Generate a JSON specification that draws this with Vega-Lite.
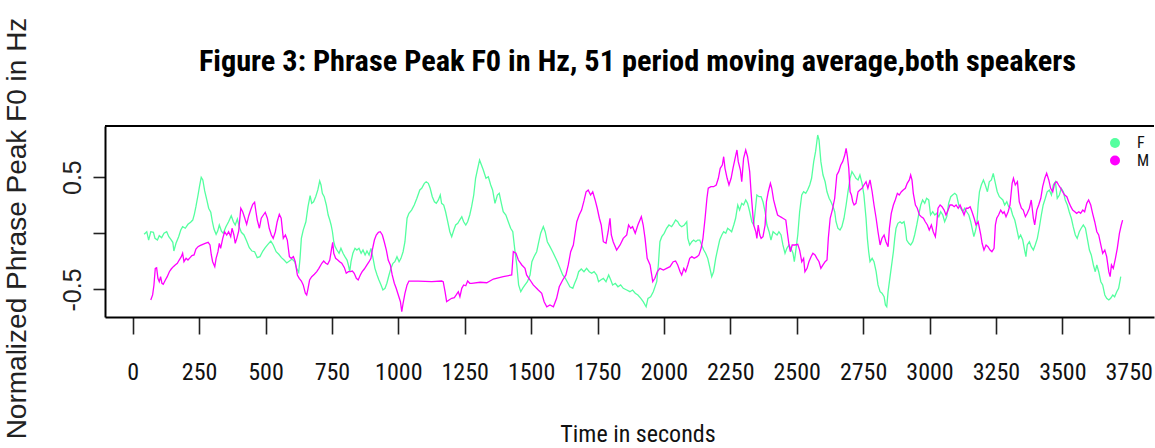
{
  "$schema": "https://vega.github.io/schema/vega-lite/v6.json",
  "autosize": {"type": "none"},
  "padding": {"left": 105, "top": 126, "right": 1, "bottom": 131},
  "width": 1049,
  "height": 191,
  "background": "white",
  "title": {
    "text": "Figure 3: Phrase Peak F0 in Hz, 51 period moving average,both speakers",
    "font": "Roboto Condensed, DejaVu Sans Condensed, Liberation Sans Narrow, Liberation Sans, sans-serif",
    "fontSize": 30.3,
    "fontWeight": "bold",
    "color": "#000000",
    "anchor": "middle",
    "frame": "group",
    "dx": 8,
    "offset": -84,
    "baseline": "alphabetic"
  },
  "config": {
    "view": {"stroke": null},
    "axis": {"grid": false}
  },
  "datasets": {
    "series": [
{"s":"F","t":43,"v":-0.009},{"s":"F","t":53,"v":0.014},{"s":"F","t":60,"v":-0.06},{"s":"F","t":68,"v":0.014},{"s":"F","t":78,"v":0.009},{"s":"F","t":84,"v":-0.045},{"s":"F","t":93,"v":-0.06},{"s":"F","t":100,"v":-0.021},{"s":"F","t":109,"v":-0.039},{"s":"F","t":118,"v":0},{"s":"F","t":128,"v":0.014},{"s":"F","t":136,"v":-0.03},{"s":"F","t":143,"v":-0.051},{"s":"F","t":151,"v":-0.08},{"s":"F","t":155,"v":-0.158},{"s":"F","t":163,"v":-0.089},{"s":"F","t":173,"v":-0.03},{"s":"F","t":181,"v":0.029},{"s":"F","t":188,"v":0.059},{"s":"F","t":198,"v":0.045},{"s":"F","t":208,"v":0.08},{"s":"F","t":218,"v":0.098},{"s":"F","t":226,"v":0.118},{"s":"F","t":232,"v":0.169},{"s":"F","t":238,"v":0.237},{"s":"F","t":246,"v":0.341},{"s":"F","t":252,"v":0.424},{"s":"F","t":258,"v":0.499},{"s":"F","t":264,"v":0.475},{"s":"F","t":271,"v":0.377},{"s":"F","t":279,"v":0.297},{"s":"F","t":286,"v":0.223},{"s":"F","t":294,"v":0.187},{"s":"F","t":300,"v":0.103},{"s":"F","t":306,"v":0.038},{"s":"F","t":314,"v":-0.009},{"s":"F","t":320,"v":0.02},{"s":"F","t":326,"v":0.074},{"s":"F","t":334,"v":0.02},{"s":"F","t":341,"v":0},{"s":"F","t":351,"v":0.059},{"s":"F","t":361,"v":0.103},{"s":"F","t":371,"v":0.157},{"s":"F","t":379,"v":0.103},{"s":"F","t":386,"v":0.074},{"s":"F","t":394,"v":0.127},{"s":"F","t":401,"v":0.059},{"s":"F","t":409,"v":0.009},{"s":"F","t":419,"v":-0.015},{"s":"F","t":429,"v":-0.069},{"s":"F","t":439,"v":-0.128},{"s":"F","t":449,"v":-0.158},{"s":"F","t":459,"v":-0.164},{"s":"F","t":469,"v":-0.217},{"s":"F","t":479,"v":-0.208},{"s":"F","t":490,"v":-0.158},{"s":"F","t":499,"v":-0.128},{"s":"F","t":509,"v":-0.098},{"s":"F","t":520,"v":-0.069},{"s":"F","t":529,"v":-0.104},{"s":"F","t":540,"v":-0.164},{"s":"F","t":550,"v":-0.187},{"s":"F","t":560,"v":-0.217},{"s":"F","t":570,"v":-0.238},{"s":"F","t":580,"v":-0.264},{"s":"F","t":590,"v":-0.247},{"s":"F","t":600,"v":-0.229},{"s":"F","t":610,"v":-0.253},{"s":"F","t":617,"v":-0.312},{"s":"F","t":625,"v":-0.347},{"s":"F","t":630,"v":-0.223},{"s":"F","t":635,"v":-0.045},{"s":"F","t":642,"v":0.029},{"s":"F","t":652,"v":0.103},{"s":"F","t":660,"v":0.237},{"s":"F","t":668,"v":0.335},{"s":"F","t":674,"v":0.267},{"s":"F","t":681,"v":0.281},{"s":"F","t":689,"v":0.326},{"s":"F","t":697,"v":0.386},{"s":"F","t":704,"v":0.466},{"s":"F","t":709,"v":0.43},{"s":"F","t":714,"v":0.356},{"s":"F","t":721,"v":0.326},{"s":"F","t":729,"v":0.252},{"s":"F","t":736,"v":0.163},{"s":"F","t":742,"v":0.118},{"s":"F","t":747,"v":0.074},{"s":"F","t":752,"v":0.014},{"s":"F","t":757,"v":-0.075},{"s":"F","t":762,"v":-0.119},{"s":"F","t":769,"v":-0.149},{"s":"F","t":777,"v":-0.178},{"s":"F","t":784,"v":-0.134},{"s":"F","t":792,"v":-0.178},{"s":"F","t":799,"v":-0.208},{"s":"F","t":807,"v":-0.238},{"s":"F","t":812,"v":-0.282},{"s":"F","t":817,"v":-0.342},{"s":"F","t":822,"v":-0.253},{"s":"F","t":829,"v":-0.178},{"s":"F","t":837,"v":-0.134},{"s":"F","t":844,"v":-0.149},{"s":"F","t":852,"v":-0.134},{"s":"F","t":860,"v":-0.178},{"s":"F","t":867,"v":-0.149},{"s":"F","t":875,"v":-0.193},{"s":"F","t":882,"v":-0.158},{"s":"F","t":890,"v":-0.193},{"s":"F","t":897,"v":-0.134},{"s":"F","t":905,"v":-0.223},{"s":"F","t":912,"v":-0.312},{"s":"F","t":920,"v":-0.371},{"s":"F","t":927,"v":-0.416},{"s":"F","t":935,"v":-0.46},{"s":"F","t":942,"v":-0.505},{"s":"F","t":950,"v":-0.49},{"s":"F","t":957,"v":-0.445},{"s":"F","t":965,"v":-0.371},{"s":"F","t":972,"v":-0.312},{"s":"F","t":980,"v":-0.267},{"s":"F","t":987,"v":-0.253},{"s":"F","t":995,"v":-0.208},{"s":"F","t":1003,"v":-0.253},{"s":"F","t":1010,"v":-0.223},{"s":"F","t":1018,"v":-0.164},{"s":"F","t":1025,"v":-0.075},{"s":"F","t":1033,"v":0.134},{"s":"F","t":1040,"v":0.178},{"s":"F","t":1050,"v":0.207},{"s":"F","t":1060,"v":0.252},{"s":"F","t":1070,"v":0.312},{"s":"F","t":1081,"v":0.386},{"s":"F","t":1088,"v":0.401},{"s":"F","t":1098,"v":0.445},{"s":"F","t":1105,"v":0.459},{"s":"F","t":1113,"v":0.445},{"s":"F","t":1120,"v":0.401},{"s":"F","t":1128,"v":0.326},{"s":"F","t":1136,"v":0.281},{"s":"F","t":1143,"v":0.267},{"s":"F","t":1151,"v":0.297},{"s":"F","t":1158,"v":0.341},{"s":"F","t":1163,"v":0.267},{"s":"F","t":1171,"v":0.252},{"s":"F","t":1178,"v":0.192},{"s":"F","t":1186,"v":0.103},{"s":"F","t":1194,"v":0.014},{"s":"F","t":1201,"v":-0.03},{"s":"F","t":1209,"v":0.029},{"s":"F","t":1216,"v":0.074},{"s":"F","t":1224,"v":0.089},{"s":"F","t":1231,"v":0.118},{"s":"F","t":1239,"v":0.148},{"s":"F","t":1246,"v":0.103},{"s":"F","t":1254,"v":0.074},{"s":"F","t":1261,"v":0.103},{"s":"F","t":1269,"v":0.163},{"s":"F","t":1276,"v":0.237},{"s":"F","t":1284,"v":0.341},{"s":"F","t":1291,"v":0.49},{"s":"F","t":1299,"v":0.579},{"s":"F","t":1306,"v":0.653},{"s":"F","t":1320,"v":0.564},{"s":"F","t":1330,"v":0.49},{"s":"F","t":1339,"v":0.504},{"s":"F","t":1348,"v":0.43},{"s":"F","t":1355,"v":0.386},{"s":"F","t":1364,"v":0.267},{"s":"F","t":1373,"v":0.341},{"s":"F","t":1380,"v":0.356},{"s":"F","t":1388,"v":0.267},{"s":"F","t":1395,"v":0.192},{"s":"F","t":1405,"v":0.163},{"s":"F","t":1414,"v":0.103},{"s":"F","t":1423,"v":0.045},{"s":"F","t":1431,"v":0.014},{"s":"F","t":1438,"v":-0.134},{"s":"F","t":1446,"v":-0.282},{"s":"F","t":1453,"v":-0.46},{"s":"F","t":1461,"v":-0.52},{"s":"F","t":1468,"v":-0.49},{"s":"F","t":1477,"v":-0.46},{"s":"F","t":1486,"v":-0.431},{"s":"F","t":1496,"v":-0.371},{"s":"F","t":1503,"v":-0.253},{"s":"F","t":1511,"v":-0.208},{"s":"F","t":1521,"v":-0.164},{"s":"F","t":1529,"v":-0.075},{"s":"F","t":1536,"v":0},{"s":"F","t":1546,"v":0.059},{"s":"F","t":1553,"v":0.014},{"s":"F","t":1561,"v":-0.075},{"s":"F","t":1571,"v":-0.119},{"s":"F","t":1581,"v":-0.164},{"s":"F","t":1590,"v":-0.208},{"s":"F","t":1599,"v":-0.253},{"s":"F","t":1609,"v":-0.312},{"s":"F","t":1619,"v":-0.371},{"s":"F","t":1629,"v":-0.401},{"s":"F","t":1636,"v":-0.431},{"s":"F","t":1646,"v":-0.476},{"s":"F","t":1657,"v":-0.49},{"s":"F","t":1664,"v":-0.445},{"s":"F","t":1672,"v":-0.401},{"s":"F","t":1679,"v":-0.342},{"s":"F","t":1689,"v":-0.318},{"s":"F","t":1699,"v":-0.342},{"s":"F","t":1709,"v":-0.312},{"s":"F","t":1719,"v":-0.342},{"s":"F","t":1728,"v":-0.356},{"s":"F","t":1737,"v":-0.342},{"s":"F","t":1747,"v":-0.371},{"s":"F","t":1754,"v":-0.431},{"s":"F","t":1762,"v":-0.416},{"s":"F","t":1772,"v":-0.401},{"s":"F","t":1782,"v":-0.431},{"s":"F","t":1792,"v":-0.371},{"s":"F","t":1800,"v":-0.416},{"s":"F","t":1807,"v":-0.46},{"s":"F","t":1817,"v":-0.445},{"s":"F","t":1827,"v":-0.476},{"s":"F","t":1837,"v":-0.46},{"s":"F","t":1847,"v":-0.49},{"s":"F","t":1860,"v":-0.505},{"s":"F","t":1872,"v":-0.52},{"s":"F","t":1882,"v":-0.505},{"s":"F","t":1892,"v":-0.534},{"s":"F","t":1902,"v":-0.549},{"s":"F","t":1913,"v":-0.579},{"s":"F","t":1922,"v":-0.609},{"s":"F","t":1933,"v":-0.654},{"s":"F","t":1940,"v":-0.579},{"s":"F","t":1950,"v":-0.565},{"s":"F","t":1960,"v":-0.52},{"s":"F","t":1973,"v":-0.431},{"s":"F","t":1979,"v":-0.282},{"s":"F","t":1985,"v":-0.075},{"s":"F","t":1992,"v":-0.03},{"s":"F","t":2001,"v":0},{"s":"F","t":2010,"v":0.045},{"s":"F","t":2019,"v":0.074},{"s":"F","t":2029,"v":0.059},{"s":"F","t":2037,"v":0.089},{"s":"F","t":2044,"v":0.118},{"s":"F","t":2052,"v":0.103},{"s":"F","t":2059,"v":0.074},{"s":"F","t":2067,"v":0.059},{"s":"F","t":2077,"v":0.074},{"s":"F","t":2086,"v":0.103},{"s":"F","t":2090,"v":-0.045},{"s":"F","t":2097,"v":-0.104},{"s":"F","t":2105,"v":-0.075},{"s":"F","t":2112,"v":-0.06},{"s":"F","t":2120,"v":-0.075},{"s":"F","t":2127,"v":-0.06},{"s":"F","t":2135,"v":-0.06},{"s":"F","t":2142,"v":-0.104},{"s":"F","t":2150,"v":-0.149},{"s":"F","t":2157,"v":-0.178},{"s":"F","t":2165,"v":-0.223},{"s":"F","t":2172,"v":-0.297},{"s":"F","t":2180,"v":-0.386},{"s":"F","t":2187,"v":-0.342},{"s":"F","t":2195,"v":-0.223},{"s":"F","t":2203,"v":-0.134},{"s":"F","t":2210,"v":-0.06},{"s":"F","t":2218,"v":-0.015},{"s":"F","t":2225,"v":0.014},{"s":"F","t":2233,"v":0},{"s":"F","t":2240,"v":0.045},{"s":"F","t":2248,"v":0.029},{"s":"F","t":2255,"v":0.014},{"s":"F","t":2263,"v":0.074},{"s":"F","t":2270,"v":0.134},{"s":"F","t":2278,"v":0.252},{"s":"F","t":2285,"v":0.207},{"s":"F","t":2293,"v":0.267},{"s":"F","t":2300,"v":0.252},{"s":"F","t":2308,"v":0.297},{"s":"F","t":2315,"v":0.267},{"s":"F","t":2323,"v":0.192},{"s":"F","t":2331,"v":0.103},{"s":"F","t":2338,"v":0.074},{"s":"F","t":2346,"v":0.252},{"s":"F","t":2350,"v":0.341},{"s":"F","t":2358,"v":0.326},{"s":"F","t":2366,"v":0.326},{"s":"F","t":2373,"v":0.281},{"s":"F","t":2381,"v":0.192},{"s":"F","t":2388,"v":0.074},{"s":"F","t":2396,"v":0.014},{"s":"F","t":2403,"v":-0.06},{"s":"F","t":2411,"v":0.014},{"s":"F","t":2418,"v":0},{"s":"F","t":2426,"v":-0.015},{"s":"F","t":2433,"v":0.014},{"s":"F","t":2441,"v":-0.015},{"s":"F","t":2448,"v":-0.104},{"s":"F","t":2456,"v":-0.178},{"s":"F","t":2463,"v":-0.134},{"s":"F","t":2471,"v":-0.104},{"s":"F","t":2478,"v":-0.134},{"s":"F","t":2486,"v":-0.178},{"s":"F","t":2491,"v":-0.253},{"s":"F","t":2496,"v":-0.164},{"s":"F","t":2504,"v":-0.015},{"s":"F","t":2511,"v":0.192},{"s":"F","t":2519,"v":0.341},{"s":"F","t":2526,"v":0.37},{"s":"F","t":2534,"v":0.356},{"s":"F","t":2541,"v":0.386},{"s":"F","t":2549,"v":0.43},{"s":"F","t":2556,"v":0.49},{"s":"F","t":2564,"v":0.638},{"s":"F","t":2571,"v":0.727},{"s":"F","t":2579,"v":0.875},{"s":"F","t":2584,"v":0.831},{"s":"F","t":2591,"v":0.638},{"s":"F","t":2599,"v":0.519},{"s":"F","t":2607,"v":0.459},{"s":"F","t":2614,"v":0.37},{"s":"F","t":2622,"v":0.312},{"s":"F","t":2629,"v":0.281},{"s":"F","t":2637,"v":0.237},{"s":"F","t":2643,"v":0.192},{"s":"F","t":2648,"v":0.103},{"s":"F","t":2655,"v":0.045},{"s":"F","t":2663,"v":0.029},{"s":"F","t":2670,"v":0.059},{"s":"F","t":2678,"v":0.134},{"s":"F","t":2686,"v":0.252},{"s":"F","t":2693,"v":0.37},{"s":"F","t":2701,"v":0.49},{"s":"F","t":2708,"v":0.549},{"s":"F","t":2716,"v":0.519},{"s":"F","t":2723,"v":0.49},{"s":"F","t":2731,"v":0.475},{"s":"F","t":2738,"v":0.519},{"s":"F","t":2746,"v":0.445},{"s":"F","t":2753,"v":0.341},{"s":"F","t":2761,"v":0.134},{"s":"F","t":2766,"v":-0.045},{"s":"F","t":2771,"v":-0.164},{"s":"F","t":2776,"v":-0.253},{"s":"F","t":2784,"v":-0.223},{"s":"F","t":2791,"v":-0.253},{"s":"F","t":2799,"v":-0.342},{"s":"F","t":2806,"v":-0.46},{"s":"F","t":2814,"v":-0.52},{"s":"F","t":2821,"v":-0.534},{"s":"F","t":2829,"v":-0.565},{"s":"F","t":2834,"v":-0.638},{"s":"F","t":2839,"v":-0.654},{"s":"F","t":2844,"v":-0.52},{"s":"F","t":2849,"v":-0.431},{"s":"F","t":2854,"v":-0.342},{"s":"F","t":2859,"v":-0.253},{"s":"F","t":2864,"v":-0.164},{"s":"F","t":2869,"v":-0.045},{"s":"F","t":2874,"v":0.045},{"s":"F","t":2881,"v":0.089},{"s":"F","t":2889,"v":0.103},{"s":"F","t":2896,"v":0.089},{"s":"F","t":2904,"v":0.103},{"s":"F","t":2909,"v":0.045},{"s":"F","t":2914,"v":-0.06},{"s":"F","t":2922,"v":-0.089},{"s":"F","t":2929,"v":-0.104},{"s":"F","t":2937,"v":-0.075},{"s":"F","t":2944,"v":-0.015},{"s":"F","t":2952,"v":0.074},{"s":"F","t":2959,"v":0.163},{"s":"F","t":2967,"v":0.252},{"s":"F","t":2974,"v":0.297},{"s":"F","t":2982,"v":0.267},{"s":"F","t":2989,"v":0.312},{"s":"F","t":2997,"v":0.297},{"s":"F","t":3004,"v":0.163},{"s":"F","t":3012,"v":0.192},{"s":"F","t":3020,"v":0.163},{"s":"F","t":3027,"v":0.178},{"s":"F","t":3035,"v":0.148},{"s":"F","t":3042,"v":0.192},{"s":"F","t":3050,"v":0.163},{"s":"F","t":3057,"v":0.103},{"s":"F","t":3065,"v":0.148},{"s":"F","t":3072,"v":0.267},{"s":"F","t":3080,"v":0.326},{"s":"F","t":3087,"v":0.341},{"s":"F","t":3095,"v":0.356},{"s":"F","t":3102,"v":0.341},{"s":"F","t":3110,"v":0.252},{"s":"F","t":3117,"v":0.223},{"s":"F","t":3125,"v":0.192},{"s":"F","t":3132,"v":0.223},{"s":"F","t":3140,"v":0.192},{"s":"F","t":3148,"v":0.163},{"s":"F","t":3155,"v":0.103},{"s":"F","t":3163,"v":0.014},{"s":"F","t":3167,"v":-0.03},{"s":"F","t":3172,"v":0.014},{"s":"F","t":3178,"v":0.074},{"s":"F","t":3183,"v":0.252},{"s":"F","t":3188,"v":0.37},{"s":"F","t":3195,"v":0.43},{"s":"F","t":3203,"v":0.475},{"s":"F","t":3210,"v":0.43},{"s":"F","t":3218,"v":0.37},{"s":"F","t":3225,"v":0.459},{"s":"F","t":3233,"v":0.475},{"s":"F","t":3240,"v":0.534},{"s":"F","t":3248,"v":0.445},{"s":"F","t":3255,"v":0.37},{"s":"F","t":3263,"v":0.326},{"s":"F","t":3276,"v":0.297},{"s":"F","t":3283,"v":0.252},{"s":"F","t":3291,"v":0.281},{"s":"F","t":3298,"v":0.237},{"s":"F","t":3306,"v":0.223},{"s":"F","t":3313,"v":0.163},{"s":"F","t":3321,"v":0.118},{"s":"F","t":3328,"v":0.045},{"s":"F","t":3336,"v":-0.045},{"s":"F","t":3343,"v":-0.015},{"s":"F","t":3351,"v":-0.06},{"s":"F","t":3358,"v":-0.149},{"s":"F","t":3363,"v":-0.208},{"s":"F","t":3368,"v":-0.104},{"s":"F","t":3376,"v":-0.075},{"s":"F","t":3383,"v":-0.119},{"s":"F","t":3391,"v":-0.149},{"s":"F","t":3398,"v":-0.104},{"s":"F","t":3406,"v":-0.045},{"s":"F","t":3413,"v":0.045},{"s":"F","t":3421,"v":0.163},{"s":"F","t":3428,"v":0.252},{"s":"F","t":3436,"v":0.312},{"s":"F","t":3443,"v":0.37},{"s":"F","t":3451,"v":0.386},{"s":"F","t":3459,"v":0.341},{"s":"F","t":3466,"v":0.43},{"s":"F","t":3474,"v":0.459},{"s":"F","t":3481,"v":0.312},{"s":"F","t":3489,"v":0.341},{"s":"F","t":3496,"v":0.401},{"s":"F","t":3504,"v":0.37},{"s":"F","t":3511,"v":0.297},{"s":"F","t":3519,"v":0.252},{"s":"F","t":3526,"v":0.192},{"s":"F","t":3534,"v":0.134},{"s":"F","t":3541,"v":0.059},{"s":"F","t":3549,"v":-0.015},{"s":"F","t":3556,"v":-0.045},{"s":"F","t":3564,"v":0.014},{"s":"F","t":3571,"v":0.045},{"s":"F","t":3579,"v":0.074},{"s":"F","t":3587,"v":0.045},{"s":"F","t":3594,"v":-0.045},{"s":"F","t":3602,"v":-0.149},{"s":"F","t":3609,"v":-0.193},{"s":"F","t":3617,"v":-0.282},{"s":"F","t":3624,"v":-0.342},{"s":"F","t":3630,"v":-0.282},{"s":"F","t":3637,"v":-0.342},{"s":"F","t":3645,"v":-0.431},{"s":"F","t":3652,"v":-0.46},{"s":"F","t":3660,"v":-0.549},{"s":"F","t":3667,"v":-0.579},{"s":"F","t":3675,"v":-0.594},{"s":"F","t":3682,"v":-0.579},{"s":"F","t":3690,"v":-0.549},{"s":"F","t":3697,"v":-0.565},{"s":"F","t":3705,"v":-0.52},{"s":"F","t":3712,"v":-0.49},{"s":"F","t":3720,"v":-0.386},
{"s":"M","t":68,"v":-0.594},{"s":"M","t":75,"v":-0.549},{"s":"M","t":80,"v":-0.46},{"s":"M","t":85,"v":-0.312},{"s":"M","t":90,"v":-0.306},{"s":"M","t":95,"v":-0.401},{"s":"M","t":100,"v":-0.431},{"s":"M","t":105,"v":-0.386},{"s":"M","t":110,"v":-0.445},{"s":"M","t":115,"v":-0.454},{"s":"M","t":123,"v":-0.416},{"s":"M","t":130,"v":-0.386},{"s":"M","t":138,"v":-0.342},{"s":"M","t":145,"v":-0.318},{"s":"M","t":153,"v":-0.297},{"s":"M","t":160,"v":-0.282},{"s":"M","t":168,"v":-0.267},{"s":"M","t":175,"v":-0.238},{"s":"M","t":183,"v":-0.208},{"s":"M","t":188,"v":-0.178},{"s":"M","t":193,"v":-0.253},{"s":"M","t":201,"v":-0.223},{"s":"M","t":208,"v":-0.238},{"s":"M","t":216,"v":-0.217},{"s":"M","t":223,"v":-0.199},{"s":"M","t":231,"v":-0.193},{"s":"M","t":238,"v":-0.14},{"s":"M","t":246,"v":-0.119},{"s":"M","t":253,"v":-0.11},{"s":"M","t":264,"v":-0.098},{"s":"M","t":273,"v":-0.089},{"s":"M","t":284,"v":-0.08},{"s":"M","t":291,"v":-0.104},{"s":"M","t":296,"v":-0.193},{"s":"M","t":301,"v":-0.253},{"s":"M","t":309,"v":-0.297},{"s":"M","t":314,"v":-0.223},{"s":"M","t":321,"v":-0.164},{"s":"M","t":326,"v":-0.089},{"s":"M","t":331,"v":-0.134},{"s":"M","t":339,"v":-0.045},{"s":"M","t":346,"v":0.014},{"s":"M","t":354,"v":-0.015},{"s":"M","t":361,"v":0.014},{"s":"M","t":369,"v":-0.03},{"s":"M","t":374,"v":0.045},{"s":"M","t":381,"v":-0.015},{"s":"M","t":386,"v":-0.089},{"s":"M","t":392,"v":-0.045},{"s":"M","t":399,"v":0.02},{"s":"M","t":407,"v":0.223},{"s":"M","t":414,"v":0.192},{"s":"M","t":422,"v":0.134},{"s":"M","t":429,"v":0.08},{"s":"M","t":437,"v":0.157},{"s":"M","t":444,"v":0.207},{"s":"M","t":452,"v":0.258},{"s":"M","t":459,"v":0.276},{"s":"M","t":464,"v":0.192},{"s":"M","t":469,"v":0.118},{"s":"M","t":477,"v":0.045},{"s":"M","t":484,"v":0.134},{"s":"M","t":492,"v":0.163},{"s":"M","t":499,"v":0.187},{"s":"M","t":507,"v":0.134},{"s":"M","t":514,"v":0.045},{"s":"M","t":522,"v":-0.015},{"s":"M","t":529,"v":-0.045},{"s":"M","t":537,"v":0.014},{"s":"M","t":544,"v":0.103},{"s":"M","t":552,"v":0.169},{"s":"M","t":559,"v":0.134},{"s":"M","t":567,"v":-0.045},{"s":"M","t":575,"v":-0.015},{"s":"M","t":582,"v":-0.06},{"s":"M","t":590,"v":-0.208},{"s":"M","t":597,"v":-0.223},{"s":"M","t":605,"v":-0.208},{"s":"M","t":612,"v":-0.253},{"s":"M","t":620,"v":-0.371},{"s":"M","t":627,"v":-0.401},{"s":"M","t":635,"v":-0.425},{"s":"M","t":642,"v":-0.46},{"s":"M","t":650,"v":-0.534},{"s":"M","t":655,"v":-0.549},{"s":"M","t":659,"v":-0.505},{"s":"M","t":666,"v":-0.416},{"s":"M","t":674,"v":-0.386},{"s":"M","t":684,"v":-0.365},{"s":"M","t":693,"v":-0.342},{"s":"M","t":701,"v":-0.312},{"s":"M","t":712,"v":-0.267},{"s":"M","t":719,"v":-0.247},{"s":"M","t":727,"v":-0.267},{"s":"M","t":734,"v":-0.276},{"s":"M","t":742,"v":-0.238},{"s":"M","t":749,"v":-0.134},{"s":"M","t":753,"v":-0.08},{"s":"M","t":757,"v":-0.178},{"s":"M","t":764,"v":-0.223},{"s":"M","t":772,"v":-0.238},{"s":"M","t":779,"v":-0.253},{"s":"M","t":787,"v":-0.267},{"s":"M","t":797,"v":-0.306},{"s":"M","t":804,"v":-0.356},{"s":"M","t":812,"v":-0.342},{"s":"M","t":819,"v":-0.342},{"s":"M","t":827,"v":-0.336},{"s":"M","t":834,"v":-0.356},{"s":"M","t":842,"v":-0.401},{"s":"M","t":849,"v":-0.416},{"s":"M","t":857,"v":-0.371},{"s":"M","t":864,"v":-0.342},{"s":"M","t":872,"v":-0.318},{"s":"M","t":882,"v":-0.282},{"s":"M","t":890,"v":-0.253},{"s":"M","t":897,"v":-0.223},{"s":"M","t":902,"v":-0.149},{"s":"M","t":910,"v":-0.06},{"s":"M","t":917,"v":-0.015},{"s":"M","t":925,"v":0.009},{"s":"M","t":932,"v":0.014},{"s":"M","t":940,"v":-0.015},{"s":"M","t":947,"v":-0.075},{"s":"M","t":955,"v":-0.149},{"s":"M","t":962,"v":-0.238},{"s":"M","t":970,"v":-0.282},{"s":"M","t":977,"v":-0.371},{"s":"M","t":985,"v":-0.445},{"s":"M","t":992,"v":-0.49},{"s":"M","t":1000,"v":-0.549},{"s":"M","t":1008,"v":-0.609},{"s":"M","t":1013,"v":-0.698},{"s":"M","t":1018,"v":-0.623},{"s":"M","t":1025,"v":-0.534},{"s":"M","t":1033,"v":-0.46},{"s":"M","t":1040,"v":-0.425},{"s":"M","t":1075,"v":-0.425},{"s":"M","t":1126,"v":-0.431},{"s":"M","t":1163,"v":-0.425},{"s":"M","t":1169,"v":-0.431},{"s":"M","t":1176,"v":-0.52},{"s":"M","t":1182,"v":-0.609},{"s":"M","t":1191,"v":-0.594},{"s":"M","t":1201,"v":-0.579},{"s":"M","t":1211,"v":-0.573},{"s":"M","t":1218,"v":-0.549},{"s":"M","t":1226,"v":-0.52},{"s":"M","t":1232,"v":-0.565},{"s":"M","t":1239,"v":-0.49},{"s":"M","t":1246,"v":-0.46},{"s":"M","t":1254,"v":-0.467},{"s":"M","t":1261,"v":-0.425},{"s":"M","t":1269,"v":-0.445},{"s":"M","t":1276,"v":-0.445},{"s":"M","t":1308,"v":-0.436},{"s":"M","t":1333,"v":-0.44},{"s":"M","t":1358,"v":-0.407},{"s":"M","t":1395,"v":-0.386},{"s":"M","t":1427,"v":-0.371},{"s":"M","t":1433,"v":-0.164},{"s":"M","t":1443,"v":-0.178},{"s":"M","t":1452,"v":-0.238},{"s":"M","t":1465,"v":-0.282},{"s":"M","t":1477,"v":-0.312},{"s":"M","t":1483,"v":-0.371},{"s":"M","t":1496,"v":-0.416},{"s":"M","t":1508,"v":-0.46},{"s":"M","t":1527,"v":-0.505},{"s":"M","t":1540,"v":-0.534},{"s":"M","t":1549,"v":-0.609},{"s":"M","t":1559,"v":-0.654},{"s":"M","t":1571,"v":-0.638},{"s":"M","t":1584,"v":-0.654},{"s":"M","t":1596,"v":-0.579},{"s":"M","t":1606,"v":-0.476},{"s":"M","t":1619,"v":-0.416},{"s":"M","t":1631,"v":-0.371},{"s":"M","t":1640,"v":-0.282},{"s":"M","t":1649,"v":-0.164},{"s":"M","t":1659,"v":-0.104},{"s":"M","t":1672,"v":0.103},{"s":"M","t":1681,"v":0.163},{"s":"M","t":1690,"v":0.207},{"s":"M","t":1699,"v":0.288},{"s":"M","t":1707,"v":0.37},{"s":"M","t":1715,"v":0.386},{"s":"M","t":1724,"v":0.341},{"s":"M","t":1732,"v":0.37},{"s":"M","t":1741,"v":0.297},{"s":"M","t":1749,"v":0.223},{"s":"M","t":1757,"v":0.134},{"s":"M","t":1764,"v":0.074},{"s":"M","t":1772,"v":-0.075},{"s":"M","t":1782,"v":-0.089},{"s":"M","t":1790,"v":0.014},{"s":"M","t":1797,"v":0.134},{"s":"M","t":1802,"v":-0.015},{"s":"M","t":1809,"v":-0.075},{"s":"M","t":1822,"v":-0.149},{"s":"M","t":1835,"v":-0.104},{"s":"M","t":1847,"v":-0.045},{"s":"M","t":1860,"v":-0.015},{"s":"M","t":1867,"v":0.074},{"s":"M","t":1875,"v":0.045},{"s":"M","t":1882,"v":0.059},{"s":"M","t":1892,"v":0},{"s":"M","t":1902,"v":0.074},{"s":"M","t":1915,"v":0.148},{"s":"M","t":1922,"v":0.074},{"s":"M","t":1929,"v":-0.045},{"s":"M","t":1937,"v":-0.223},{"s":"M","t":1948,"v":-0.282},{"s":"M","t":1958,"v":-0.431},{"s":"M","t":1966,"v":-0.401},{"s":"M","t":1975,"v":-0.342},{"s":"M","t":1985,"v":-0.312},{"s":"M","t":1998,"v":-0.327},{"s":"M","t":2010,"v":-0.312},{"s":"M","t":2023,"v":-0.297},{"s":"M","t":2035,"v":-0.253},{"s":"M","t":2044,"v":-0.247},{"s":"M","t":2052,"v":-0.282},{"s":"M","t":2061,"v":-0.342},{"s":"M","t":2067,"v":-0.371},{"s":"M","t":2075,"v":-0.312},{"s":"M","t":2082,"v":-0.342},{"s":"M","t":2090,"v":-0.282},{"s":"M","t":2097,"v":-0.223},{"s":"M","t":2105,"v":-0.208},{"s":"M","t":2114,"v":-0.223},{"s":"M","t":2125,"v":-0.208},{"s":"M","t":2132,"v":-0.193},{"s":"M","t":2140,"v":-0.134},{"s":"M","t":2147,"v":-0.045},{"s":"M","t":2155,"v":0.134},{"s":"M","t":2162,"v":0.312},{"s":"M","t":2167,"v":0.401},{"s":"M","t":2177,"v":0.415},{"s":"M","t":2187,"v":0.415},{"s":"M","t":2197,"v":0.43},{"s":"M","t":2205,"v":0.49},{"s":"M","t":2212,"v":0.579},{"s":"M","t":2220,"v":0.608},{"s":"M","t":2225,"v":0.682},{"s":"M","t":2230,"v":0.579},{"s":"M","t":2238,"v":0.49},{"s":"M","t":2245,"v":0.43},{"s":"M","t":2253,"v":0.49},{"s":"M","t":2260,"v":0.579},{"s":"M","t":2268,"v":0.668},{"s":"M","t":2275,"v":0.742},{"s":"M","t":2280,"v":0.638},{"s":"M","t":2288,"v":0.564},{"s":"M","t":2293,"v":0.459},{"s":"M","t":2300,"v":0.668},{"s":"M","t":2308,"v":0.742},{"s":"M","t":2315,"v":0.682},{"s":"M","t":2323,"v":0.549},{"s":"M","t":2328,"v":0.37},{"s":"M","t":2333,"v":0.223},{"s":"M","t":2338,"v":0.074},{"s":"M","t":2346,"v":0.014},{"s":"M","t":2350,"v":-0.045},{"s":"M","t":2355,"v":0.074},{"s":"M","t":2361,"v":-0.015},{"s":"M","t":2366,"v":-0.045},{"s":"M","t":2373,"v":-0.03},{"s":"M","t":2381,"v":0.074},{"s":"M","t":2386,"v":0.281},{"s":"M","t":2393,"v":0.37},{"s":"M","t":2401,"v":0.445},{"s":"M","t":2406,"v":0.401},{"s":"M","t":2413,"v":0.297},{"s":"M","t":2421,"v":0.223},{"s":"M","t":2428,"v":0.163},{"s":"M","t":2438,"v":0.148},{"s":"M","t":2448,"v":0.134},{"s":"M","t":2459,"v":0.118},{"s":"M","t":2466,"v":-0.015},{"s":"M","t":2471,"v":-0.104},{"s":"M","t":2476,"v":-0.164},{"s":"M","t":2483,"v":-0.104},{"s":"M","t":2494,"v":-0.104},{"s":"M","t":2504,"v":-0.098},{"s":"M","t":2511,"v":-0.149},{"s":"M","t":2519,"v":-0.253},{"s":"M","t":2526,"v":-0.223},{"s":"M","t":2531,"v":-0.342},{"s":"M","t":2539,"v":-0.312},{"s":"M","t":2546,"v":-0.253},{"s":"M","t":2554,"v":-0.208},{"s":"M","t":2561,"v":-0.178},{"s":"M","t":2569,"v":-0.193},{"s":"M","t":2576,"v":-0.223},{"s":"M","t":2584,"v":-0.253},{"s":"M","t":2591,"v":-0.312},{"s":"M","t":2599,"v":-0.282},{"s":"M","t":2607,"v":-0.253},{"s":"M","t":2614,"v":-0.238},{"s":"M","t":2619,"v":-0.045},{"s":"M","t":2626,"v":0.134},{"s":"M","t":2634,"v":0.207},{"s":"M","t":2643,"v":0.312},{"s":"M","t":2651,"v":0.519},{"s":"M","t":2658,"v":0.549},{"s":"M","t":2666,"v":0.608},{"s":"M","t":2673,"v":0.638},{"s":"M","t":2681,"v":0.697},{"s":"M","t":2686,"v":0.757},{"s":"M","t":2691,"v":0.682},{"s":"M","t":2696,"v":0.579},{"s":"M","t":2701,"v":0.37},{"s":"M","t":2706,"v":0.341},{"s":"M","t":2711,"v":0.281},{"s":"M","t":2716,"v":0.252},{"s":"M","t":2723,"v":0.267},{"s":"M","t":2731,"v":0.37},{"s":"M","t":2738,"v":0.386},{"s":"M","t":2746,"v":0.401},{"s":"M","t":2753,"v":0.43},{"s":"M","t":2761,"v":0.459},{"s":"M","t":2768,"v":0.401},{"s":"M","t":2776,"v":0.475},{"s":"M","t":2784,"v":0.37},{"s":"M","t":2791,"v":0.252},{"s":"M","t":2799,"v":0.134},{"s":"M","t":2806,"v":0.014},{"s":"M","t":2814,"v":-0.104},{"s":"M","t":2821,"v":-0.045},{"s":"M","t":2829,"v":-0.015},{"s":"M","t":2836,"v":-0.075},{"s":"M","t":2844,"v":-0.119},{"s":"M","t":2849,"v":0.045},{"s":"M","t":2856,"v":0.178},{"s":"M","t":2864,"v":0.252},{"s":"M","t":2871,"v":0.297},{"s":"M","t":2879,"v":0.356},{"s":"M","t":2886,"v":0.341},{"s":"M","t":2894,"v":0.37},{"s":"M","t":2901,"v":0.386},{"s":"M","t":2909,"v":0.401},{"s":"M","t":2916,"v":0.445},{"s":"M","t":2924,"v":0.475},{"s":"M","t":2929,"v":0.519},{"s":"M","t":2934,"v":0.475},{"s":"M","t":2939,"v":0.356},{"s":"M","t":2947,"v":0.252},{"s":"M","t":2954,"v":0.223},{"s":"M","t":2962,"v":0.163},{"s":"M","t":2969,"v":0.148},{"s":"M","t":2977,"v":0.134},{"s":"M","t":2984,"v":0.103},{"s":"M","t":2992,"v":0.074},{"s":"M","t":2999,"v":0.029},{"s":"M","t":3007,"v":0.074},{"s":"M","t":3014,"v":0.014},{"s":"M","t":3022,"v":-0.03},{"s":"M","t":3027,"v":0.074},{"s":"M","t":3032,"v":0.223},{"s":"M","t":3040,"v":0.252},{"s":"M","t":3047,"v":0.237},{"s":"M","t":3055,"v":0.207},{"s":"M","t":3062,"v":0.163},{"s":"M","t":3070,"v":0.207},{"s":"M","t":3077,"v":0.252},{"s":"M","t":3085,"v":0.252},{"s":"M","t":3093,"v":0.237},{"s":"M","t":3100,"v":0.252},{"s":"M","t":3108,"v":0.223},{"s":"M","t":3115,"v":0.252},{"s":"M","t":3123,"v":0.207},{"s":"M","t":3130,"v":0.163},{"s":"M","t":3138,"v":0.223},{"s":"M","t":3145,"v":0.223},{"s":"M","t":3153,"v":0.237},{"s":"M","t":3160,"v":0.192},{"s":"M","t":3168,"v":0.134},{"s":"M","t":3175,"v":0.074},{"s":"M","t":3183,"v":0.103},{"s":"M","t":3188,"v":0.045},{"s":"M","t":3193,"v":-0.015},{"s":"M","t":3198,"v":-0.089},{"s":"M","t":3205,"v":-0.149},{"s":"M","t":3213,"v":-0.104},{"s":"M","t":3220,"v":-0.119},{"s":"M","t":3228,"v":-0.149},{"s":"M","t":3235,"v":-0.164},{"s":"M","t":3243,"v":-0.134},{"s":"M","t":3248,"v":0.074},{"s":"M","t":3253,"v":0.134},{"s":"M","t":3260,"v":0.163},{"s":"M","t":3268,"v":0.207},{"s":"M","t":3276,"v":0.178},{"s":"M","t":3281,"v":0.192},{"s":"M","t":3288,"v":0.148},{"s":"M","t":3296,"v":0.192},{"s":"M","t":3303,"v":0.252},{"s":"M","t":3311,"v":0.445},{"s":"M","t":3316,"v":0.49},{"s":"M","t":3323,"v":0.43},{"s":"M","t":3331,"v":0.459},{"s":"M","t":3338,"v":0.281},{"s":"M","t":3346,"v":0.223},{"s":"M","t":3353,"v":0.207},{"s":"M","t":3361,"v":0.148},{"s":"M","t":3368,"v":0.178},{"s":"M","t":3376,"v":0.223},{"s":"M","t":3383,"v":0.297},{"s":"M","t":3391,"v":0.134},{"s":"M","t":3396,"v":0.074},{"s":"M","t":3404,"v":0.207},{"s":"M","t":3411,"v":0.252},{"s":"M","t":3419,"v":0.312},{"s":"M","t":3426,"v":0.415},{"s":"M","t":3434,"v":0.49},{"s":"M","t":3441,"v":0.534},{"s":"M","t":3449,"v":0.475},{"s":"M","t":3456,"v":0.401},{"s":"M","t":3464,"v":0.37},{"s":"M","t":3471,"v":0.445},{"s":"M","t":3479,"v":0.459},{"s":"M","t":3486,"v":0.43},{"s":"M","t":3494,"v":0.401},{"s":"M","t":3501,"v":0.37},{"s":"M","t":3509,"v":0.341},{"s":"M","t":3517,"v":0.326},{"s":"M","t":3524,"v":0.281},{"s":"M","t":3532,"v":0.237},{"s":"M","t":3539,"v":0.207},{"s":"M","t":3547,"v":0.192},{"s":"M","t":3554,"v":0.178},{"s":"M","t":3562,"v":0.192},{"s":"M","t":3569,"v":0.178},{"s":"M","t":3577,"v":0.207},{"s":"M","t":3584,"v":0.192},{"s":"M","t":3592,"v":0.267},{"s":"M","t":3599,"v":0.297},{"s":"M","t":3607,"v":0.252},{"s":"M","t":3614,"v":0.178},{"s":"M","t":3622,"v":0.103},{"s":"M","t":3630,"v":0.014},{"s":"M","t":3637,"v":-0.015},{"s":"M","t":3645,"v":-0.104},{"s":"M","t":3652,"v":-0.178},{"s":"M","t":3660,"v":-0.149},{"s":"M","t":3667,"v":-0.208},{"s":"M","t":3675,"v":-0.342},{"s":"M","t":3680,"v":-0.386},{"s":"M","t":3685,"v":-0.282},{"s":"M","t":3692,"v":-0.312},{"s":"M","t":3700,"v":-0.223},{"s":"M","t":3707,"v":-0.134},{"s":"M","t":3715,"v":0},{"s":"M","t":3722,"v":0.074},{"s":"M","t":3727,"v":0.118}
    ],
    "frame": [{"edge": "top"}]
  },
  "layer": [
    {
      "data": {"name": "series"},
      "mark": {"type": "line", "strokeWidth": 1.3, "interpolate": "linear"},
      "encoding": {
        "x": {
          "field": "t",
          "type": "quantitative",
          "scale": {"domain": [-104.3, 3845.2], "nice": false, "zero": false},
          "axis": {
            "values": [0, 250, 500, 750, 1000, 1250, 1500, 1750, 2000, 2250, 2500, 2750, 3000, 3250, 3500, 3750],
            "format": "d",
            "domain": true,
            "domainColor": "#000000",
            "domainWidth": 2,
            "ticks": true,
            "tickSize": 17,
            "tickColor": "#222222",
            "tickWidth": 1.6,
            "labelFont": "Roboto Condensed, DejaVu Sans Condensed, Liberation Sans Narrow, Liberation Sans, sans-serif",
            "labelFontSize": 24,
            "labelColor": "#111111",
            "labelPadding": 26,
            "labelFlush": false,
            "labelOverlap": false,
            "title": "Time in seconds",
            "titleFont": "Roboto Condensed, DejaVu Sans Condensed, Liberation Sans Narrow, Liberation Sans, sans-serif",
            "titleFontSize": 24,
            "titleFontWeight": "normal",
            "titleColor": "#111111",
            "titleX": 532.5,
            "titleY": 124,
            "titleAlign": "center",
            "titleBaseline": "alphabetic"
          }
        },
        "y": {
          "field": "v",
          "type": "quantitative",
          "scale": {"domain": [-0.7453, 0.9555], "nice": false, "zero": false},
          "axis": {
            "values": [-0.5, 0, 0.5],
            "labelExpr": "datum.value == 0.5 ? '0.5' : (datum.value == -0.5 ? '-0.5' : '')",
            "domain": true,
            "domainColor": "#000000",
            "domainWidth": 2,
            "ticks": true,
            "tickSize": 12,
            "tickColor": "#222222",
            "tickWidth": 1.6,
            "labelAngle": -90,
            "labelAlign": "center",
            "labelBaseline": "alphabetic",
            "labelPadding": 13,
            "labelFont": "Liberation Sans, sans-serif",
            "labelFontSize": 25,
            "labelColor": "#222222",
            "labelOverlap": false,
            "title": "Normalized Phrase Peak F0 in Hz",
            "titleFont": "Liberation Sans, sans-serif",
            "titleFontSize": 28,
            "titleFontWeight": "normal",
            "titleColor": "#222222",
            "titleAngle": -90,
            "titleX": -80,
            "titleY": 102,
            "titleAlign": "center",
            "titleBaseline": "alphabetic"
          }
        },
        "color": {
          "field": "s",
          "type": "nominal",
          "scale": {"domain": ["F", "M"], "range": ["#54FF9F", "#FF00FF"]},
          "legend": {
            "orient": "none",
            "legendX": 1002,
            "legendY": 9,
            "title": null,
            "padding": 0,
            "symbolType": "circle",
            "symbolSize": 100,
            "labelFont": "Roboto Condensed, DejaVu Sans Condensed, Liberation Sans Narrow, Liberation Sans, sans-serif",
            "labelFontSize": 16,
            "labelColor": "#111111",
            "labelOffset": 14,
            "rowPadding": 1.5,
            "encode": {
              "symbols": {
                "update": {
                  "fill": {"scale": "color", "field": "value"},
                  "fillOpacity": {"value": 1},
                  "strokeWidth": {"value": 0}
                }
              }
            }
          }
        }
      }
    },
    {
      "data": {"name": "frame"},
      "mark": {"type": "rule", "color": "#000000", "strokeWidth": 2},
      "encoding": {"y": {"datum": 0.9555}}
    }
  ]
}
